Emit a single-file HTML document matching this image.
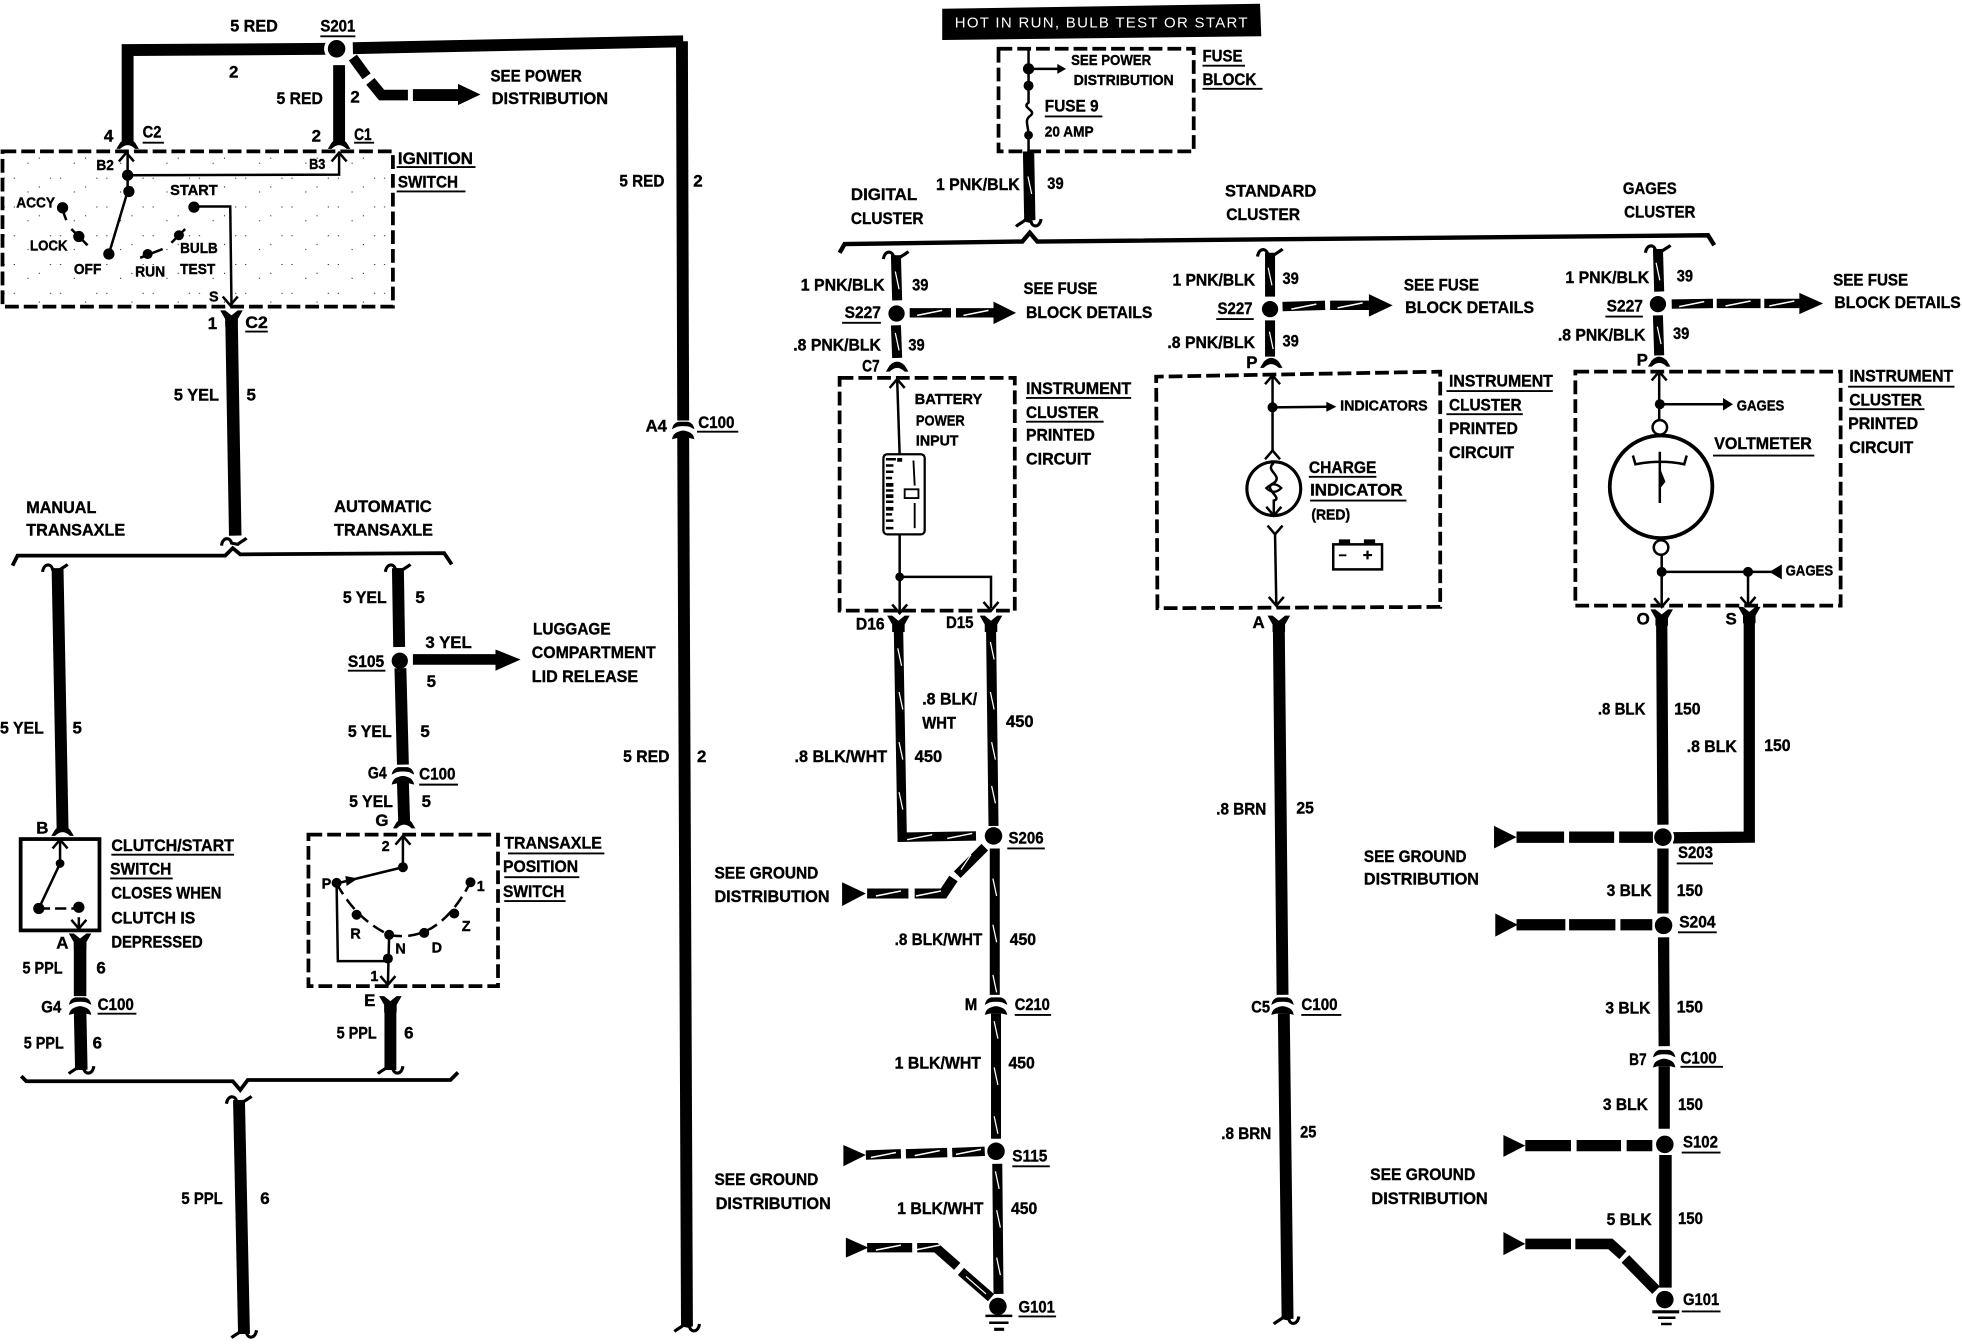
<!DOCTYPE html>
<html><head><meta charset="utf-8"><title>Wiring diagram</title>
<style>
html,body{margin:0;padding:0;background:#fff}
svg{display:block}
text{font-family:"Liberation Sans",sans-serif;font-weight:bold;font-size:13.5px;fill:#000;stroke:#000;stroke-width:.3px}
.s{font-size:11.5px}
.w{fill:none;stroke:#000;stroke-linejoin:miter}
.d{fill:none;stroke:#000;stroke-width:3;stroke-dasharray:11 4}
.t{fill:none;stroke:#000;stroke-width:2}
.u{fill:none;stroke:#000;stroke-width:1.5}
</style></head><body>
<svg xmlns="http://www.w3.org/2000/svg" width="1962" height="1344" viewBox="0 0 1568 1074" preserveAspectRatio="none">
<defs>
<pattern id="st" width="37" height="23" patternUnits="userSpaceOnUse"><rect x="3" y="4" width=".8" height=".8"/><rect x="11" y="4" width=".8" height=".8"/><rect x="22" y="15" width=".8" height=".8"/><rect x="31" y="11" width=".8" height=".8"/></pattern>
<path id="fu" d="M-9 6 L-6 1 Q-3 -2 0 -2 Q3 -2 6 1 L9 6 L6 6 Q3 3 0 3 Q-3 3 -6 6Z"/>
<path id="fd" d="M-9 -5 L-5 -5 L0 -1 L5 -5 L9 -5 L5 2 L5 8 L-5 8 L-5 2Z"/>
<path id="hk" d="M-10 4 C-9 -3 -3 -3 -2 2 L3 3 C5 1 8 0 10 -2" fill="none" stroke="#000" stroke-width="2.5"/>
<path id="au" d="M-6 7 L0 0 L6 7" fill="none" stroke="#000" stroke-width="2"/>
<path id="ad" d="M-6 -7 L0 0 L6 -7" fill="none" stroke="#000" stroke-width="2"/>
<g id="cn"><path d="M-9 1 Q-8 -4 -4 -5 L4 -5 Q8 -4 9 1 L5 -1 Q0 -2 -5 -1Z"/><path d="M-9 9 Q-8 4 -4 3 Q0 1 4 3 Q8 4 9 9 L5 8 L-5 8Z"/></g>
<path id="sv" d="M-1.5 -7 L1.5 7" stroke="#fff" stroke-width="1" fill="none"/>
<path id="sh" d="M-10 2 L10 -2" stroke="#fff" stroke-width="1.2" fill="none"/>
<path id="hl" d="M0 -9 L19 0 L0 9Z"/>
</defs>

<!-- IGNITION / top -->
<rect x="2" y="121" width="312" height="124" fill="url(#st)"/>
<path class="w" stroke-width="9.5" d="M102 113 L102 40 L262 39"/>
<path class="w" stroke-width="9.5" d="M282 38.500 L546 33"/>
<path class="w" stroke-width="9.5" d="M271 52 L271 113"/>
<circle cx="269" cy="39" r="8.500" fill="#000" stroke="#fff" stroke-width="3"/>
<path class="w" stroke-width="8" d="M282 46 L293 61"/>
<path class="w" stroke-width="8.5" d="M296 65 L305 76 L326 76"/>
<path class="w" stroke-width="9.5" d="M330 76 L368 76"/>
<path d="M366 67 L384 75.5 L366 84Z"/>
<use href="#fu" x="102" y="113"/><use href="#fu" x="271" y="113"/>
<rect class="d" x="2" y="121" width="312" height="124"/>
<use href="#au" x="101" y="122"/><use href="#au" x="271" y="122"/>
<path class="t" d="M102 122 L102 153 L87 203"/><path class="t" d="M102 140 L271 139.5 L271 122"/>
<circle cx="102" cy="140" r="4.5"/><circle cx="103" cy="153" r="4.5"/><circle cx="87" cy="203" r="4.5"/>
<path class="t" d="M155 165 L184 165 L185 244"/><circle cx="155" cy="165.500" r="4.500"/><use href="#ad" x="184" y="244"/>
<circle cx="50" cy="166" r="4.500"/><path class="t" d="M50 168 L53 176"/>
<circle cx="63" cy="189" r="4.500"/><path class="t" d="M57 183 L70 196"/>
<circle cx="118" cy="203" r="4"/><path class="t" d="M112 206 L130 199"/>
<circle cx="143" cy="188" r="4"/><path class="t" d="M137 194 L148 183"/>
<use href="#fd" x="185" y="253"/>
<path class="w" stroke-width="10" d="M185 254 L188 428"/>
<use href="#hk" x="187" y="432"/>
<path class="w" stroke-width="3" d="M10 452 L14 444 L180 444 L186 438 L192 443 L355 442 L361 451"/>

<!-- manual -->
<use href="#hk" x="44" y="453"/>
<path class="w" stroke-width="9.500" d="M46 454 L50 662"/>
<use href="#fu" x="50" y="662"/>
<rect x="16.500" y="670.500" width="63" height="73" fill="none" stroke="#000" stroke-width="3"/>
<use href="#au" x="48" y="671"/><path class="t" d="M48 671 L48 690 L31 726"/><path class="t" stroke-dasharray="9 4" d="M31 726 L63 726 L63 742"/>
<circle cx="48" cy="690" r="3.500"/><circle cx="31" cy="726" r="4.500"/><circle cx="63" cy="725" r="4.500"/><use href="#ad" x="63" y="742"/>
<use href="#fd" x="64" y="751"/>
<path class="w" stroke-width="10" d="M64 752 L64 796"/><use href="#cn" x="64" y="802"/>
<path class="w" stroke-width="10" d="M64 808 L65 855"/><use href="#hk" x="65" y="856" transform="rotate(180 65 856)"/>
<path class="w" stroke-width="3" d="M17 860 L21 864 L186 864 L192 871 L198 863 L360 863 L366 857"/>
<use href="#hk" x="191" y="878"/>
<path class="w" stroke-width="9.500" d="M191 879 L195 1066"/><use href="#hk" x="195" y="1067" transform="rotate(180 195 1067)"/>

<!-- automatic -->
<use href="#hk" x="318" y="453"/>
<path class="w" stroke-width="9.500" d="M318 454 L319 517"/><circle cx="319.500" cy="528" r="6.500"/>
<path class="w" stroke-width="8.500" d="M330 527 L398 527"/><path d="M396 519 L416 527 L396 536Z"/>
<path class="w" stroke-width="9.500" d="M320 534 L322 611"/><use href="#cn" x="322" y="618"/>
<path class="w" stroke-width="9.500" d="M322 625 L323 657"/><use href="#fu" x="323" y="656"/>
<rect class="d" x="246.500" y="667" width="151.500" height="121"/>
<use href="#au" x="322" y="668"/><path class="t" d="M322 668 L322 693 L269 706 L270 768 L310 768"/>
<circle cx="322" cy="693" r="4"/><circle cx="269" cy="705.500" r="4"/><path d="M276 700 L286 702 L277 708Z"/>
<path class="t" stroke-dasharray="10 5" d="M269 706 Q285 735 311 747 Q350 755 376 705"/>
<circle cx="285" cy="731" r="4"/><circle cx="311" cy="747" r="4"/><circle cx="339" cy="745.500" r="4"/><circle cx="363" cy="730" r="4"/><circle cx="376" cy="705" r="4"/>
<path class="t" d="M311 747 L310 787"/><circle cx="310" cy="766" r="4"/><use href="#ad" x="310" y="787"/>
<use href="#fd" x="312" y="801"/><path class="w" stroke-width="9.500" d="M312 802 L312 855"/><use href="#hk" x="312" y="856" transform="rotate(180 312 856)"/>

<!-- mid wire -->
<path class="w" stroke-width="9.500" d="M545 33 L546 336"/><use href="#cn" x="546" y="342"/>
<path class="w" stroke-width="9.500" d="M546 350 L549 1060"/><use href="#hk" x="549" y="1062" transform="rotate(180 549 1062)"/>

<!-- FUSE -->
<path d="M753 7 L1007 3 L1008 29 L753 32Z"/>
<rect class="d" x="798" y="39" width="156" height="82"/>
<path class="t" d="M822 39 L822 82 C816 86 828 88 824 92 C818 96 822 100 822 108 L822 121 M822 55 L848 55"/>
<path d="M845 51 L852 55 L845 59Z"/><circle cx="822" cy="55" r="4.500"/><circle cx="822" cy="68.500" r="4"/><circle cx="822" cy="108" r="3.500"/>
<path class="w" stroke-width="9" d="M822 121 L823 176"/><use href="#sv" x="823" y="148"/><use href="#hk" x="822" y="179" transform="rotate(180 822 179)"/>
<path class="w" stroke-width="3.500" d="M671 202 L675 195 L817 193 L823 186 L829 193 L1365 188 L1370 196"/>

<!-- digital -->
<use href="#hk" x="716" y="203"/>
<path class="w" stroke-width="8" d="M716 204 L717 240"/><use href="#sv" x="717" y="224"/><circle cx="716.500" cy="250.500" r="6.500"/>
<path class="w" stroke-width="7.500" d="M727 250 L760 250 M764 250 L796 250"/><use href="#sh" x="743" y="250"/><use href="#sh" x="780" y="250"/><path d="M794 241 L812 250 L794 259Z"/>
<path class="w" stroke-width="8" d="M716 260 L717 286"/><use href="#sv" x="717" y="273"/><use href="#fu" x="717" y="291"/>
<rect class="d" x="671" y="302" width="140" height="186"/>
<use href="#au" x="717" y="303"/><path class="t" d="M717 303 L719 364 M719 427 L719 490 M719 461 L792 461 L792 486"/>
<circle cx="719" cy="461" r="3.500"/><use href="#ad" x="719" y="490"/><use href="#ad" x="792" y="488"/>
<rect x="706" y="363" width="33" height="64" rx="3" fill="#fff" stroke="#000" stroke-width="1.800"/>
<path d="M708 366h8v2h-8zM708 371h6v2h-6zM708 376h6v2h-6zM708 381h5v2h-5zM708 386h6v3h-6zM708 391h6v2h-6zM708 395h6v3h-6zM708 400h6v2h-6zM708 405h6v3h-6zM708 410h5v2h-5zM708 415h6v2h-6zM708 421h6v2h-6zM717 366h4v3h-4z"/>
<rect x="723" y="391" width="11" height="7" fill="none" stroke="#000" stroke-width="1.500"/><path class="u" d="M730 368 L731 388 M731 402 L731 422"/>
<use href="#fd" x="718" y="497"/><use href="#fd" x="792" y="497"/>
<path class="w" stroke-width="7.500" d="M718 500 L721 669 L780 668"/>
<use href="#sv" x="719" y="525"/><use href="#sv" x="720" y="560"/><use href="#sv" x="720" y="600"/><use href="#sv" x="720" y="640"/><use href="#sh" x="735" y="669"/><use href="#sh" x="767" y="668"/>
<path class="w" stroke-width="8" d="M792 500 L794 660"/>
<use href="#sv" x="793" y="520"/><use href="#sv" x="793" y="560"/><use href="#sv" x="794" y="600"/><use href="#sv" x="794" y="635"/>
<circle cx="794" cy="668" r="7"/>
<path class="w" stroke-width="7.500" d="M787 677 L765 699"/><path class="w" stroke-width="8" d="M762 702 L754 714 L731 714 M726 714 L693 714"/>
<path d="M776 683 L768 695" stroke="#fff" stroke-width="1" fill="none"/><use href="#sh" x="710" y="714"/><use href="#sh" x="742" y="714"/>
<path d="M673 705 L692 714 L673 724Z"/>
<path class="w" stroke-width="8" d="M795 678 L795 795"/><use href="#sv" x="795" y="709"/><use href="#sv" x="795" y="746"/><use href="#sv" x="795" y="786"/>
<use href="#cn" x="796" y="802"/>
<path class="w" stroke-width="8" d="M796 810 L796 910"/><use href="#sv" x="796" y="823"/><use href="#sv" x="796" y="860"/><use href="#sv" x="796" y="899"/>
<circle cx="796" cy="920" r="7"/>
<path class="w" stroke-width="7.500" d="M692 923 L720 922 M724 922 L757 921 M761 921 L787 920"/><use href="#sh" x="706" y="923"/><use href="#sh" x="741" y="921.500"/><use href="#sh" x="774" y="920.500"/>
<path d="M674 915 L692 923 L674 932Z"/>
<path class="w" stroke-width="8" d="M797 930 L798 1034"/><use href="#sv" x="797" y="943"/><use href="#sv" x="798" y="974"/><use href="#sv" x="798" y="1012"/>
<circle cx="797.500" cy="1044" r="7"/>
<path d="M787.500 1050.500h21.500v2h-21.500zM790.500 1056h15.500v2h-15.500zM794.500 1061h8v2.500h-8z"/>
<path d="M676 989 L694 997 L676 1005Z"/>
<path class="w" stroke-width="7.500" d="M693 997 L729 997 M733 997 L748 997 L765 1012 M768 1016 L792 1037"/><use href="#sh" x="710" y="997"/><use href="#sh" x="741" y="997"/>
<path d="M772 1020 L788 1034" stroke="#fff" stroke-width="1" fill="none"/>

<!-- standard -->
<use href="#hk" x="1015" y="201"/>
<path class="w" stroke-width="8" d="M1015 202 L1015 237"/><use href="#sv" x="1015" y="221"/><circle cx="1015" cy="247" r="6.500"/>
<path class="w" stroke-width="7.500" d="M1025 245 L1059 244 M1063 244 L1096 244"/><use href="#sh" x="1042" y="245"/><use href="#sh" x="1079" y="244"/><path d="M1094 235 L1113 244 L1094 253Z"/>
<path class="w" stroke-width="8" d="M1015 256 L1015 285"/><use href="#sv" x="1016" y="272"/><use href="#fu" x="1016" y="288"/>
<path class="d" d="M925 486 L924 301 L1151 297 L1151 485 Z"/>
<use href="#au" x="1017" y="300"/><path class="t" d="M1017 300 L1017 360 M1017 325.500 L1062 325"/><circle cx="1017" cy="325.500" r="4"/><path d="M1060 321 L1068 325 L1060 329Z"/>
<use href="#au" x="1017" y="360"/>
<circle cx="1018" cy="390.500" r="21.500" fill="none" stroke="#000" stroke-width="2.500"/>
<path class="t" d="M1018 370 C1010 376 1026 380 1018 386 C1008 390 1026 398 1018 400 L1018 412"/><path d="M1012 390 Q1018 384 1024 390 Q1018 396 1012 390Z" fill="none" stroke="#000" stroke-width="1.800"/>
<use href="#ad" x="1018" y="412"/><use href="#ad" x="1019" y="427"/>
<path class="t" d="M1019 427 L1020 483"/><use href="#ad" x="1020" y="484"/>
<rect x="1065.500" y="435" width="39" height="20" fill="none" stroke="#000" stroke-width="2"/><path d="M1070 431h9v4h-9zM1090 431h9v4h-9zM1070 443h6v1.500h-6zM1092 440h1.800v7h-1.800zM1089.500 442.700h7v1.700h-7z"/>
<use href="#fd" x="1022" y="497"/>
<path class="w" stroke-width="9.500" d="M1022 500 L1025 795"/><use href="#cn" x="1025" y="802"/>
<path class="w" stroke-width="9.500" d="M1026 810 L1029 1054"/><use href="#hk" x="1028" y="1056" transform="rotate(180 1028 1056)"/>

<!-- gages -->
<use href="#hk" x="1325" y="198"/>
<path class="w" stroke-width="8" d="M1325 199 L1326 233"/><use href="#sv" x="1325" y="217"/><circle cx="1325" cy="243" r="6.500"/>
<path class="w" stroke-width="7.500" d="M1336 243 L1369 242.500 M1372 242.500 L1407 242.500 M1410 242.500 L1440 242.500"/><use href="#sh" x="1352" y="243"/><use href="#sh" x="1389" y="242.500"/><use href="#sh" x="1424" y="242.500"/><path d="M1438 234 L1457 242.500 L1438 251Z"/>
<path class="w" stroke-width="8" d="M1325 252 L1326 284"/><use href="#sv" x="1326" y="268"/><use href="#fu" x="1326" y="287"/>
<rect class="d" x="1259" y="297" width="212" height="187"/>
<use href="#au" x="1326" y="297"/><path class="t" d="M1326 297 L1326 335 M1326 323 L1380 323"/><circle cx="1326.500" cy="323" r="4"/><path d="M1377 318 L1385 323 L1377 328Z"/>
<circle cx="1326.500" cy="341.500" r="5.800" fill="#fff" stroke="#000" stroke-width="2"/>
<circle cx="1327.500" cy="389" r="41" fill="#fff" stroke="#000" stroke-width="3"/>
<path class="t" d="M1305 364 L1307 371 Q1327 367 1346 371 L1348 364 M1326.500 361 L1326.500 402"/><path d="M1327 375 L1331 385 L1327 390Z"/>
<circle cx="1327.500" cy="437.500" r="5.800" fill="#fff" stroke="#000" stroke-width="2"/>
<path class="t" d="M1328 443 L1328 484 M1328 457 L1416 457 M1397 457 L1397 484"/><circle cx="1328" cy="457" r="4"/><circle cx="1397" cy="457" r="4"/><path d="M1424 451 L1414 457 L1424 463Z"/>
<use href="#ad" x="1328" y="485"/><use href="#ad" x="1397" y="484"/>
<use href="#fd" x="1328" y="492"/><use href="#fd" x="1398" y="490"/>
<path class="w" stroke-width="9" d="M1328 495 L1329 659"/>
<path class="w" stroke-width="9" d="M1398 493 L1398 669 L1337 669.500"/>
<circle cx="1329" cy="669" r="8" fill="#000" stroke="#fff" stroke-width="2"/>
<path d="M1194 660 L1212 669 L1194 678Z"/><path class="w" stroke-width="9" d="M1212 669 L1250 669 M1254 669 L1290 669 M1294 669 L1321 669"/>
<path class="w" stroke-width="9" d="M1329 678 L1329 730"/><circle cx="1329.500" cy="739.500" r="7"/>
<path d="M1195 730 L1213 739 L1195 748.500Z"/><path class="w" stroke-width="9" d="M1212 739 L1251 739 M1254 739 L1291 739 M1295 739 L1320.500 739"/>
<path class="w" stroke-width="9" d="M1329.500 749 L1330 836"/><use href="#cn" x="1330" y="844"/>
<path class="w" stroke-width="9" d="M1330 852 L1330 902"/><circle cx="1330.500" cy="914.500" r="7"/>
<path d="M1201.500 907 L1219 915.500 L1201.500 924.500Z"/><path class="w" stroke-width="9" d="M1219 915.500 L1255.500 915.500 M1260 915.500 L1295.500 915.500 M1300 915.500 L1320.500 915.500"/>
<path class="w" stroke-width="10" d="M1331 923 L1331 1029"/><circle cx="1330.500" cy="1038.500" r="7"/>
<path d="M1320.500 1047h21.500v2.500h-21.500zM1325 1052h14v2h-14zM1327.500 1057h8.500v2h-8.500z"/>
<path d="M1201.500 984.500 L1219 994 L1201.500 1003Z"/>
<path class="w" stroke-width="8.500" d="M1219 994 L1255.500 994 M1259 994 L1287 994 L1297 1003 M1299 1006 L1323.500 1031"/>

<!-- labels -->
<g>
<text x="184" y="25" textLength="38" lengthAdjust="spacingAndGlyphs">5 RED</text>
<text x="256" y="25" textLength="28" lengthAdjust="spacingAndGlyphs">S201</text><path class="u" d="M256 29H284"/>
<text x="183" y="62">2</text>
<text x="221" y="83" textLength="37" lengthAdjust="spacingAndGlyphs">5 RED</text><text x="280" y="82">2</text>
<text x="392" y="65" textLength="73" lengthAdjust="spacingAndGlyphs">SEE POWER</text>
<text x="393" y="83" textLength="93" lengthAdjust="spacingAndGlyphs">DISTRIBUTION</text>
<text x="83" y="113">4</text><text x="114" y="110" textLength="15" lengthAdjust="spacingAndGlyphs">C2</text><path class="u" d="M114 114H131"/>
<text x="249" y="113">2</text><text x="283" y="112" textLength="14" lengthAdjust="spacingAndGlyphs">C1</text><path class="u" d="M283 114H299"/>
<text x="318" y="131" textLength="60" lengthAdjust="spacingAndGlyphs">IGNITION</text><path class="u" d="M317 133.500H380"/>
<text x="318" y="150" textLength="48" lengthAdjust="spacingAndGlyphs">SWITCH</text><path class="u" d="M317 153H372"/>
<text x="495" y="149" textLength="36" lengthAdjust="spacingAndGlyphs">5 RED</text><text x="554" y="149">2</text>
<text x="516" y="345" textLength="17" lengthAdjust="spacingAndGlyphs">A4</text>
<text x="558" y="342" textLength="29" lengthAdjust="spacingAndGlyphs">C100</text><path class="u" d="M557 345H590"/>
<text x="498" y="609" textLength="37" lengthAdjust="spacingAndGlyphs">5 RED</text><text x="557" y="609">2</text>

<text class="s" x="77" y="136" textLength="14" lengthAdjust="spacingAndGlyphs">B2</text><text class="s" x="247" y="135" textLength="13" lengthAdjust="spacingAndGlyphs">B3</text>
<text class="s" x="13" y="166" textLength="31" lengthAdjust="spacingAndGlyphs">ACCY</text>
<text class="s" x="24" y="200" textLength="30" lengthAdjust="spacingAndGlyphs">LOCK</text>
<text class="s" x="59" y="219" textLength="22" lengthAdjust="spacingAndGlyphs">OFF</text>
<text class="s" x="108" y="221" textLength="24" lengthAdjust="spacingAndGlyphs">RUN</text>
<text class="s" x="144" y="202" textLength="30" lengthAdjust="spacingAndGlyphs">BULB</text>
<text class="s" x="144" y="219" textLength="28" lengthAdjust="spacingAndGlyphs">TEST</text>
<text class="s" x="136" y="156" textLength="38" lengthAdjust="spacingAndGlyphs">START</text>
<text class="s" x="167" y="241">S</text>
<text x="166" y="263">1</text><text x="196" y="262" textLength="18" lengthAdjust="spacingAndGlyphs">C2</text><path class="u" d="M196 265H214"/>
<text x="139" y="320" textLength="36" lengthAdjust="spacingAndGlyphs">5 YEL</text><text x="197" y="320">5</text>
<text x="21" y="410" textLength="56" lengthAdjust="spacingAndGlyphs">MANUAL</text>
<text x="21" y="428" textLength="79" lengthAdjust="spacingAndGlyphs">TRANSAXLE</text>
<text x="267" y="409" textLength="78" lengthAdjust="spacingAndGlyphs">AUTOMATIC</text>
<text x="267" y="428" textLength="79" lengthAdjust="spacingAndGlyphs">TRANSAXLE</text>
<text x="0" y="586" textLength="35" lengthAdjust="spacingAndGlyphs">5 YEL</text><text x="58" y="586">5</text>
<text x="274" y="482" textLength="35" lengthAdjust="spacingAndGlyphs">5 YEL</text><text x="332" y="482">5</text>
<text x="340" y="518" textLength="37" lengthAdjust="spacingAndGlyphs">3 YEL</text>
<text x="278" y="533" textLength="29" lengthAdjust="spacingAndGlyphs">S105</text><path class="u" d="M278 536H308"/>
<text x="341" y="549">5</text>
<text x="278" y="589" textLength="35" lengthAdjust="spacingAndGlyphs">5 YEL</text><text x="336" y="589">5</text>
<text x="294" y="622" textLength="15" lengthAdjust="spacingAndGlyphs">G4</text>
<text x="335" y="623" textLength="29" lengthAdjust="spacingAndGlyphs">C100</text><path class="u" d="M335 627H366"/>
<text x="279" y="645" textLength="35" lengthAdjust="spacingAndGlyphs">5 YEL</text><text x="337" y="645">5</text>
<text x="300" y="660">G</text>
<text x="426" y="507" textLength="62" lengthAdjust="spacingAndGlyphs">LUGGAGE</text>
<text x="425" y="526" textLength="99" lengthAdjust="spacingAndGlyphs">COMPARTMENT</text>
<text x="425" y="545" textLength="85" lengthAdjust="spacingAndGlyphs">LID RELEASE</text>
<text x="29" y="666">B</text><text x="45" y="758">A</text>
<text x="89" y="680" textLength="98" lengthAdjust="spacingAndGlyphs">CLUTCH/START</text><path class="u" d="M89 683H187"/>
<text x="88" y="699" textLength="49" lengthAdjust="spacingAndGlyphs">SWITCH</text><path class="u" d="M88 702H138"/>
<text x="89" y="718" textLength="88" lengthAdjust="spacingAndGlyphs">CLOSES WHEN</text>
<text x="89" y="738" textLength="67" lengthAdjust="spacingAndGlyphs">CLUTCH IS</text>
<text x="89" y="757" textLength="73" lengthAdjust="spacingAndGlyphs">DEPRESSED</text>
<text x="18" y="778" textLength="32" lengthAdjust="spacingAndGlyphs">5 PPL</text><text x="77" y="778">6</text>
<text x="33" y="809" textLength="16" lengthAdjust="spacingAndGlyphs">G4</text>
<text x="78" y="807" textLength="29" lengthAdjust="spacingAndGlyphs">C100</text><path class="u" d="M78 810H109"/>
<text x="19" y="838" textLength="32" lengthAdjust="spacingAndGlyphs">5 PPL</text><text x="74" y="838">6</text>
<text x="403" y="678" textLength="78" lengthAdjust="spacingAndGlyphs">TRANSAXLE</text><path class="u" d="M406 682H483"/>
<text x="402" y="697" textLength="60" lengthAdjust="spacingAndGlyphs">POSITION</text><path class="u" d="M403 701H463"/>
<text x="402" y="717" textLength="49" lengthAdjust="spacingAndGlyphs">SWITCH</text><path class="u" d="M403 720H452"/>
<text class="s" x="305" y="680">2</text><text class="s" x="257" y="710">P</text><text class="s" x="381" y="712">1</text>
<text class="s" x="280" y="750">R</text><text class="s" x="316" y="762">N</text><text class="s" x="345" y="761">D</text><text class="s" x="369" y="744">Z</text>
<text class="s" x="296" y="784">1</text><text x="291" y="804">E</text>
<text x="269" y="830" textLength="32" lengthAdjust="spacingAndGlyphs">5 PPL</text><text x="323" y="830">6</text>
<text x="145" y="962" textLength="33" lengthAdjust="spacingAndGlyphs">5 PPL</text><text x="208" y="962">6</text>

<text x="763" y="22" textLength="234" lengthAdjust="spacing" style="fill:#fff;stroke:none;font-weight:normal;font-size:12px">HOT IN RUN, BULB TEST OR START</text>
<text class="s" x="856" y="52" textLength="64" lengthAdjust="spacingAndGlyphs">SEE POWER</text>
<text class="s" x="858" y="68" textLength="80" lengthAdjust="spacingAndGlyphs">DISTRIBUTION</text>
<text x="835" y="89" textLength="43" lengthAdjust="spacingAndGlyphs">FUSE 9</text><path class="u" d="M835 93H881"/>
<text class="s" x="835" y="109" textLength="39" lengthAdjust="spacingAndGlyphs">20 AMP</text>
<text x="961" y="49" textLength="32" lengthAdjust="spacingAndGlyphs">FUSE</text><path class="u" d="M961 52.500H995"/>
<text x="961" y="68" textLength="43" lengthAdjust="spacingAndGlyphs">BLOCK</text><path class="u" d="M961 71H1009"/>
<text x="748" y="152" textLength="67" lengthAdjust="spacingAndGlyphs">1 PNK/BLK</text><text x="837" y="151" textLength="13" lengthAdjust="spacingAndGlyphs">39</text>
<text x="680" y="160" textLength="53" lengthAdjust="spacingAndGlyphs">DIGITAL</text><text x="680" y="179" textLength="58" lengthAdjust="spacingAndGlyphs">CLUSTER</text>
<text x="979" y="157" textLength="73" lengthAdjust="spacingAndGlyphs">STANDARD</text><text x="980" y="176" textLength="59" lengthAdjust="spacingAndGlyphs">CLUSTER</text>
<text x="1297" y="155" textLength="43" lengthAdjust="spacingAndGlyphs">GAGES</text><text x="1298" y="174" textLength="57" lengthAdjust="spacingAndGlyphs">CLUSTER</text>

<text x="640" y="232" textLength="67" lengthAdjust="spacingAndGlyphs">1 PNK/BLK</text><text x="729" y="232" textLength="13" lengthAdjust="spacingAndGlyphs">39</text>
<text x="675" y="254" textLength="29" lengthAdjust="spacingAndGlyphs">S227</text><path class="u" d="M673 258H704"/>
<text x="634" y="280" textLength="70" lengthAdjust="spacingAndGlyphs">.8 PNK/BLK</text><text x="726" y="280" textLength="13" lengthAdjust="spacingAndGlyphs">39</text>
<text x="689" y="297" textLength="14" lengthAdjust="spacingAndGlyphs">C7</text>
<text x="818" y="235" textLength="59" lengthAdjust="spacingAndGlyphs">SEE FUSE</text><text x="820" y="254" textLength="101" lengthAdjust="spacingAndGlyphs">BLOCK DETAILS</text>
<text class="s" x="731" y="323" textLength="54" lengthAdjust="spacingAndGlyphs">BATTERY</text><text class="s" x="732" y="340" textLength="39" lengthAdjust="spacingAndGlyphs">POWER</text><text class="s" x="732" y="356" textLength="34" lengthAdjust="spacingAndGlyphs">INPUT</text>
<text x="820" y="315" textLength="84" lengthAdjust="spacingAndGlyphs">INSTRUMENT</text><path class="u" d="M820 318H904"/>
<text x="820" y="334" textLength="58" lengthAdjust="spacingAndGlyphs">CLUSTER</text><path class="u" d="M820 337H882"/>
<text x="820" y="352" textLength="55" lengthAdjust="spacingAndGlyphs">PRINTED</text><text x="820" y="371" textLength="52" lengthAdjust="spacingAndGlyphs">CIRCUIT</text>
<text x="684" y="503" textLength="23" lengthAdjust="spacingAndGlyphs">D16</text><text x="756" y="502" textLength="22" lengthAdjust="spacingAndGlyphs">D15</text>
<text x="737" y="563" textLength="44" lengthAdjust="spacingAndGlyphs">.8 BLK/</text><text x="737" y="582" textLength="27" lengthAdjust="spacingAndGlyphs">WHT</text>
<text x="804" y="581" textLength="22" lengthAdjust="spacingAndGlyphs">450</text>
<text x="635" y="609" textLength="74" lengthAdjust="spacingAndGlyphs">.8 BLK/WHT</text><text x="731" y="609" textLength="22" lengthAdjust="spacingAndGlyphs">450</text>
<text x="806" y="674" textLength="28" lengthAdjust="spacingAndGlyphs">S206</text><path class="u" d="M805 678H835"/>
<text x="571" y="702" textLength="83" lengthAdjust="spacingAndGlyphs">SEE GROUND</text><text x="571" y="721" textLength="92" lengthAdjust="spacingAndGlyphs">DISTRIBUTION</text>
<text x="715" y="755" textLength="70" lengthAdjust="spacingAndGlyphs">.8 BLK/WHT</text><text x="807" y="755" textLength="21" lengthAdjust="spacingAndGlyphs">450</text>
<text x="771" y="807" textLength="10" lengthAdjust="spacingAndGlyphs">M</text><text x="811" y="807" textLength="28" lengthAdjust="spacingAndGlyphs">C210</text><path class="u" d="M811 811H840"/>
<text x="715" y="854" textLength="69" lengthAdjust="spacingAndGlyphs">1 BLK/WHT</text><text x="806" y="854" textLength="21" lengthAdjust="spacingAndGlyphs">450</text>
<text x="809" y="928" textLength="28" lengthAdjust="spacingAndGlyphs">S115</text><path class="u" d="M809 932H839"/>
<text x="571" y="947" textLength="83" lengthAdjust="spacingAndGlyphs">SEE GROUND</text><text x="572" y="966" textLength="92" lengthAdjust="spacingAndGlyphs">DISTRIBUTION</text>
<text x="717" y="970" textLength="69" lengthAdjust="spacingAndGlyphs">1 BLK/WHT</text><text x="808" y="970" textLength="21" lengthAdjust="spacingAndGlyphs">450</text>
<text x="814" y="1049" textLength="29" lengthAdjust="spacingAndGlyphs">G101</text><path class="u" d="M814 1052H844"/>

<text x="937" y="228" textLength="66" lengthAdjust="spacingAndGlyphs">1 PNK/BLK</text><text x="1025" y="227" textLength="13" lengthAdjust="spacingAndGlyphs">39</text>
<text x="973" y="251" textLength="28" lengthAdjust="spacingAndGlyphs">S227</text><path class="u" d="M972 255H1002"/>
<text x="933" y="278" textLength="70" lengthAdjust="spacingAndGlyphs">.8 PNK/BLK</text><text x="1025" y="277" textLength="13" lengthAdjust="spacingAndGlyphs">39</text>
<text x="996" y="294">P</text>
<text x="1122" y="232" textLength="60" lengthAdjust="spacingAndGlyphs">SEE FUSE</text><text x="1123" y="250" textLength="103" lengthAdjust="spacingAndGlyphs">BLOCK DETAILS</text>
<text class="s" x="1071" y="328" textLength="70" lengthAdjust="spacingAndGlyphs">INDICATORS</text>
<text x="1046" y="378" textLength="54" lengthAdjust="spacingAndGlyphs">CHARGE</text><path class="u" d="M1046 381H1100"/>
<text x="1047" y="396" textLength="74" lengthAdjust="spacingAndGlyphs">INDICATOR</text><path class="u" d="M1047 400H1124"/>
<text class="s" x="1048" y="415" textLength="31" lengthAdjust="spacingAndGlyphs">(RED)</text>
<text x="1158" y="309" textLength="83" lengthAdjust="spacingAndGlyphs">INSTRUMENT</text><path class="u" d="M1156 312.500H1241"/>
<text x="1158" y="328" textLength="58" lengthAdjust="spacingAndGlyphs">CLUSTER</text><path class="u" d="M1156 331H1217"/>
<text x="1158" y="347" textLength="55" lengthAdjust="spacingAndGlyphs">PRINTED</text><text x="1158" y="366" textLength="52" lengthAdjust="spacingAndGlyphs">CIRCUIT</text>
<text x="1001" y="502">A</text>
<text x="972" y="651" textLength="40" lengthAdjust="spacingAndGlyphs">.8 BRN</text><text x="1036" y="650" textLength="14" lengthAdjust="spacingAndGlyphs">25</text>
<text x="1000" y="809" textLength="15" lengthAdjust="spacingAndGlyphs">C5</text><text x="1040" y="807" textLength="29" lengthAdjust="spacingAndGlyphs">C100</text><path class="u" d="M1040 811H1072"/>
<text x="976" y="910" textLength="40" lengthAdjust="spacingAndGlyphs">.8 BRN</text><text x="1039" y="909" textLength="13" lengthAdjust="spacingAndGlyphs">25</text>

<text x="1251" y="226" textLength="67" lengthAdjust="spacingAndGlyphs">1 PNK/BLK</text><text x="1340" y="225" textLength="13" lengthAdjust="spacingAndGlyphs">39</text>
<text x="1284" y="249" textLength="29" lengthAdjust="spacingAndGlyphs">S227</text><path class="u" d="M1283 253H1313"/>
<text x="1245" y="272" textLength="70" lengthAdjust="spacingAndGlyphs">.8 PNK/BLK</text><text x="1337" y="271" textLength="13" lengthAdjust="spacingAndGlyphs">39</text>
<text x="1308" y="292">P</text>
<text x="1465" y="228" textLength="60" lengthAdjust="spacingAndGlyphs">SEE FUSE</text><text x="1466" y="246" textLength="101" lengthAdjust="spacingAndGlyphs">BLOCK DETAILS</text>
<text class="s" x="1388" y="328" textLength="38" lengthAdjust="spacingAndGlyphs">GAGES</text>
<text x="1370" y="359" textLength="78" lengthAdjust="spacingAndGlyphs">VOLTMETER</text><path class="u" d="M1369 364H1450"/>
<text x="1478" y="305" textLength="83" lengthAdjust="spacingAndGlyphs">INSTRUMENT</text><path class="u" d="M1477 309H1562"/>
<text x="1478" y="324" textLength="58" lengthAdjust="spacingAndGlyphs">CLUSTER</text><path class="u" d="M1478 327H1538"/>
<text x="1477" y="343" textLength="56" lengthAdjust="spacingAndGlyphs">PRINTED</text><text x="1478" y="362" textLength="51" lengthAdjust="spacingAndGlyphs">CIRCUIT</text>
<text class="s" x="1427" y="460" textLength="38" lengthAdjust="spacingAndGlyphs">GAGES</text>
<text x="1308" y="499">O</text><text x="1379" y="499">S</text>
<text x="1277" y="571" textLength="38" lengthAdjust="spacingAndGlyphs">.8 BLK</text><text x="1338" y="571" textLength="21" lengthAdjust="spacingAndGlyphs">150</text>
<text x="1348" y="601" textLength="40" lengthAdjust="spacingAndGlyphs">.8 BLK</text><text x="1410" y="600" textLength="21" lengthAdjust="spacingAndGlyphs">150</text>
<text x="1090" y="689" textLength="82" lengthAdjust="spacingAndGlyphs">SEE GROUND</text><text x="1090" y="707" textLength="92" lengthAdjust="spacingAndGlyphs">DISTRIBUTION</text>
<text x="1341" y="685.500" textLength="28" lengthAdjust="spacingAndGlyphs">S203</text><path class="u" d="M1340 690H1369"/>
<text x="1284" y="716" textLength="36" lengthAdjust="spacingAndGlyphs">3 BLK</text><text x="1340" y="716" textLength="21" lengthAdjust="spacingAndGlyphs">150</text>
<text x="1342" y="741" textLength="29" lengthAdjust="spacingAndGlyphs">S204</text><path class="u" d="M1341 745H1372"/>
<text x="1283" y="810" textLength="36" lengthAdjust="spacingAndGlyphs">3 BLK</text><text x="1340" y="809" textLength="21" lengthAdjust="spacingAndGlyphs">150</text>
<text x="1302" y="851" textLength="14" lengthAdjust="spacingAndGlyphs">B7</text><text x="1343" y="850" textLength="29" lengthAdjust="spacingAndGlyphs">C100</text><path class="u" d="M1343 852.500H1377"/>
<text x="1281" y="887" textLength="36" lengthAdjust="spacingAndGlyphs">3 BLK</text><text x="1341" y="887" textLength="20" lengthAdjust="spacingAndGlyphs">150</text>
<text x="1345" y="917" textLength="28" lengthAdjust="spacingAndGlyphs">S102</text><path class="u" d="M1344 921H1375"/>
<text x="1095" y="943" textLength="84" lengthAdjust="spacingAndGlyphs">SEE GROUND</text><text x="1096" y="962" textLength="93" lengthAdjust="spacingAndGlyphs">DISTRIBUTION</text>
<text x="1284" y="979" textLength="36" lengthAdjust="spacingAndGlyphs">5 BLK</text><text x="1341" y="978" textLength="20" lengthAdjust="spacingAndGlyphs">150</text>
<text x="1345" y="1043" textLength="29" lengthAdjust="spacingAndGlyphs">G101</text><path class="u" d="M1344 1048H1375"/>
</g>
</svg>
</body></html>
